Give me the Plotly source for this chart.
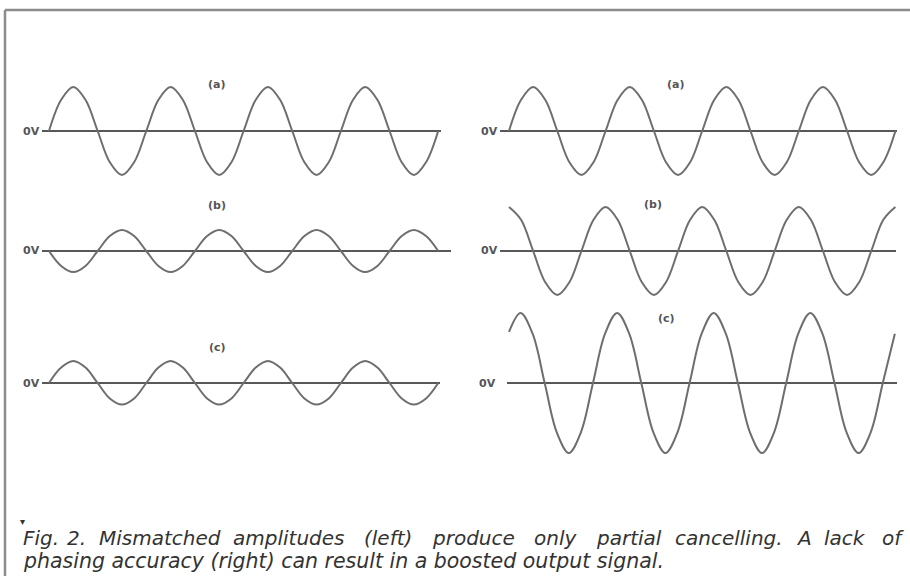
import plotly.graph_objects as go

# ---------------- data (phase in degrees, level relative to amplitude of (a)) ----------------
PHASE_DEG = [0, 45, 90, 135, 180, 225, 270, 315, 360, 405, 450, 495, 540, 585, 630, 675, 720,
             765, 810, 855, 900, 945, 990, 1035, 1080, 1125, 1170, 1215, 1260, 1305, 1350, 1395, 1440]

RIGHT_C_PHASE_DEG = [0, 43, 88, 133, 178, 223, 268, 313, 358, 403, 448, 493, 538, 583, 628, 673, 718,
                     763, 808, 853, 898, 943, 988, 1033, 1078, 1123, 1168, 1213, 1258, 1303, 1348, 1393, 1438]

LEFT_A = [0, 0.71, 1.0, 0.71, 0, -0.71, -1.0, -0.71, 0, 0.71, 1.0, 0.71, 0, -0.71, -1.0, -0.71,
          0, 0.71, 1.0, 0.71, 0, -0.71, -1.0, -0.71, 0, 0.71, 1.0, 0.71, 0, -0.71, -1.0, -0.71, 0]
LEFT_B = [0, -0.34, -0.48, -0.34, 0, 0.34, 0.48, 0.34, 0, -0.34, -0.48, -0.34, 0, 0.34, 0.48, 0.34,
          0, -0.34, -0.48, -0.34, 0, 0.34, 0.48, 0.34, 0, -0.34, -0.48, -0.34, 0, 0.34, 0.48, 0.34, 0]
LEFT_C = [0, 0.35, 0.5, 0.35, 0, -0.35, -0.49, -0.35, 0, 0.35, 0.5, 0.35, 0, -0.35, -0.49, -0.35,
          0, 0.35, 0.5, 0.35, 0, -0.35, -0.49, -0.35, 0, 0.35, 0.5, 0.35, 0, -0.35, -0.49, -0.35, 0]
RIGHT_A = [0, 0.71, 1.0, 0.71, 0, -0.71, -1.0, -0.71, 0, 0.71, 1.0, 0.71, 0, -0.71, -1.0, -0.71,
           0, 0.71, 1.0, 0.71, 0, -0.71, -1.0, -0.71, 0, 0.71, 1.0, 0.71, 0, -0.71, -1.0, -0.71, 0]
RIGHT_B = [1.0, 0.71, 0, -0.71, -1.0, -0.71, 0, 0.71, 1.0, 0.71, 0, -0.71, -1.0, -0.71, 0, 0.71,
           1.0, 0.71, 0, -0.71, -1.0, -0.71, 0, 0.71, 1.0, 0.71, 0, -0.71, -1.0, -0.71, 0, 0.71, 1.0]
RIGHT_C = [1.16, 1.59, 1.12, 0, -1.12, -1.59, -1.12, 0, 1.12, 1.59, 1.12, 0, -1.12, -1.59, -1.12, 0,
           1.12, 1.59, 1.12, 0, -1.12, -1.59, -1.12, 0, 1.12, 1.59, 1.12, 0, -1.12, -1.59, -1.12, 0, 1.12]

PANEL_LABELS = ["(a)", "(b)", "(c)", "(a)", "(b)", "(c)"]
ZERO_LABEL = "0V"
CAPTION_LINE1_WORDS = ["Fig.", "2.", "Mismatched", "amplitudes", "(left)", "produce", "only",
                       "partial", "cancelling.", "A", "lack", "of"]
CAPTION_LINE2 = "phasing accuracy (right) can result in a boosted output signal."

# ---------------- layout constants (pixels) ----------------
W, H = 910, 576
PX_PER_UNIT = 44.0
COLS = {
    "L": dict(px0=0, px1=455, origin=49, period=97.3),
    "R": dict(px0=455, px1=910, origin=509, period=96.6),
}
PANELS = [
    dict(col="L", y0=131, top=60, bot=190, lx0=42, lx1=441, vx=41, tx=216, ty=84, x=PHASE_DEG, y=LEFT_A),
    dict(col="L", y0=251, top=190, bot=320, lx0=42, lx1=451, vx=41, tx=217, ty=205, x=PHASE_DEG, y=LEFT_B),
    dict(col="L", y0=383, top=320, bot=460, lx0=42, lx1=440, vx=41, tx=217, ty=347, x=PHASE_DEG, y=LEFT_C),
    dict(col="R", y0=131, top=60, bot=190, lx0=500, lx1=897, vx=499, tx=675, ty=84, x=PHASE_DEG, y=RIGHT_A),
    dict(col="R", y0=251, top=190, bot=300, lx0=500, lx1=896, vx=499, tx=653, ty=204, x=PHASE_DEG, y=RIGHT_B),
    dict(col="R", y0=383, top=300, bot=470, lx0=507, lx1=897, vx=497, tx=666, ty=318, x=RIGHT_C_PHASE_DEG, y=RIGHT_C),
]

WAVE_COLOR = "#6e6e6e"
AXIS_COLOR = "#585858"
TEXT_COLOR = "#555555"
CAPTION_COLOR = "#333333"


def px_to_deg(col, px):
    c = COLS[col]
    return (px - c["origin"]) / c["period"] * 360.0


fig = go.Figure()
layout_axes = {}

layout_axes["xaxis"] = dict(domain=[COLS["L"]["px0"] / W, COLS["L"]["px1"] / W],
                            range=[px_to_deg("L", COLS["L"]["px0"]), px_to_deg("L", COLS["L"]["px1"])],
                            visible=False, fixedrange=True)
layout_axes["xaxis2"] = dict(domain=[COLS["R"]["px0"] / W, COLS["R"]["px1"] / W],
                             range=[px_to_deg("R", COLS["R"]["px0"]), px_to_deg("R", COLS["R"]["px1"])],
                             visible=False, fixedrange=True)

annotations = []
for i, p in enumerate(PANELS):
    yname = "yaxis" if i == 0 else f"yaxis{i + 1}"
    yref = "y" if i == 0 else f"y{i + 1}"
    xref = "x" if p["col"] == "L" else "x2"
    layout_axes[yname] = dict(
        domain=[1 - p["bot"] / H, 1 - p["top"] / H],
        range=[-(p["bot"] - p["y0"]) / PX_PER_UNIT, (p["y0"] - p["top"]) / PX_PER_UNIT],
        anchor=xref, visible=False, fixedrange=True,
    )
    fig.add_trace(go.Scatter(
        x=[px_to_deg(p["col"], p["lx0"]), px_to_deg(p["col"], p["lx1"])], y=[0, 0],
        xaxis=xref, yaxis=yref, mode="lines",
        line=dict(color=AXIS_COLOR, width=2), hoverinfo="skip", showlegend=False))
    fig.add_trace(go.Scatter(
        x=p["x"], y=p["y"], xaxis=xref, yaxis=yref, mode="lines",
        line=dict(color=WAVE_COLOR, width=2, shape="spline", smoothing=1.0),
        showlegend=False, hoverinfo="skip"))
    annotations.append(dict(
        x=p["vx"] / W, y=1 - p["y0"] / H, xref="paper", yref="paper",
        xanchor="right", yanchor="middle", showarrow=False, text=ZERO_LABEL,
        font=dict(family="DejaVu Sans", size=11, color=TEXT_COLOR, weight="bold"), borderpad=0))
    annotations.append(dict(
        x=p["tx"] / W, y=1 - p["ty"] / H, xref="paper", yref="paper",
        xanchor="center", yanchor="middle", showarrow=False, text=PANEL_LABELS[i],
        font=dict(family="DejaVu Sans", size=11, color=TEXT_COLOR, weight="bold"), borderpad=0))

# caption (first line justified word by word, as in the original)
CAP_FONT = dict(family="DejaVu Sans", size=20, color=CAPTION_COLOR, style="italic")
WORD_X = [22, 66, 98, 232, 363, 431, 533, 595, 674, 795, 823, 881]
for w, wx in zip(CAPTION_LINE1_WORDS, WORD_X):
    annotations.append(dict(x=wx / W, y=1 - 538 / H, xref="paper", yref="paper",
                            xanchor="left", yanchor="middle", showarrow=False, text=w,
                            font=CAP_FONT, borderpad=0))
annotations.append(dict(x=22 / W, y=1 - 561 / H, xref="paper", yref="paper",
                        xanchor="left", yanchor="middle", showarrow=False, text=CAPTION_LINE2,
                        font=dict(CAP_FONT, size=20.5), borderpad=0))
annotations.append(dict(x=22 / W, y=1 - 521 / H, xref="paper", yref="paper",
                        xanchor="center", yanchor="middle", showarrow=False, text="▾",
                        font=dict(family="DejaVu Sans", size=10, color=CAPTION_COLOR)))

shapes = [
    dict(type="line", xref="paper", yref="paper", x0=5 / W, x1=1, y0=1 - 10 / H, y1=1 - 10 / H,
         line=dict(color="#8c8c8c", width=2.5)),
    dict(type="line", xref="paper", yref="paper", x0=5 / W, x1=5 / W, y0=1 - 10 / H, y1=0,
         line=dict(color="#8c8c8c", width=2.5)),
]

fig.update_layout(
    width=W, height=H, margin=dict(l=0, r=0, t=0, b=0),
    paper_bgcolor="white", plot_bgcolor="rgba(0,0,0,0)",
    showlegend=False, annotations=annotations, shapes=shapes,
    **layout_axes,
)

fig.write_html(
    "out.html",
    config={"displayModeBar": False},
    post_script="document.body.style.margin='0';document.body.style.padding='0';"
                "document.body.style.overflow='hidden';",
)
